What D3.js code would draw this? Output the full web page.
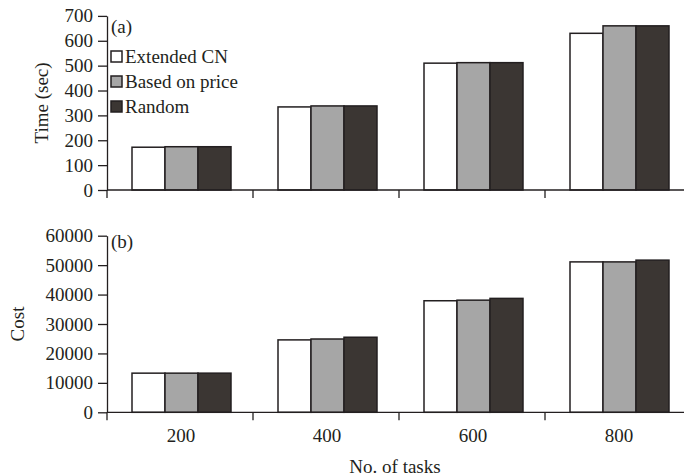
<!DOCTYPE html>
<html>
<head>
<meta charset="utf-8">
<script src="https://cdn.jsdelivr.net/npm/d3@7"></script>
<style>
  body { margin: 0; background: #fff; }
  text { font-family: "Liberation Serif", "Times New Roman", serif; fill: #231f20; }
</style>
</head>
<body>
<svg id="chart" width="684" height="476"></svg>
<script>
// categories and series
const tasks = ["200", "400", "600", "800"];
const seriesNames = ["Extended CN", "Based on price", "Random"];
const seriesColors = ["#ffffff", "#a6a6a6", "#3b3633"];

// (a) time in seconds
const timeExtended = [172, 334, 510, 630];
const timePrice = [174, 338, 512, 660];
const timeRandom = [174, 338, 512, 660];

// (b) cost
const costExtended = [13300, 24600, 37900, 51100];
const costPrice = [13300, 24900, 38100, 51100];
const costRandom = [13300, 25500, 38700, 51700];

const timeTicks = [0, 100, 200, 300, 400, 500, 600, 700];
const costTicks = [0, 10000, 20000, 30000, 40000, 50000, 60000];

const svg = d3.select("#chart");
const ink = "#231f20";
const fontSize = 19;

const left = 107, right = 691, axisEnd = 684;

// category bands, ticks sit on band edges
const x0 = d3.scaleBand().domain(tasks).range([left, right]).padding(0);
const x1 = d3.scaleBand().domain(seriesNames).range([25, 124]).padding(0);

function panel(opts) {
  const g = svg.append("g");
  const y = d3.scaleLinear().domain(opts.domain).range([opts.bottom, opts.top]);

  // bars
  const rows = tasks.map((t, i) => ({
    task: t,
    vals: opts.series.map((s, j) => ({ name: seriesNames[j], v: s[i], c: seriesColors[j] }))
  }));

  g.selectAll(".grp")
    .data(rows)
    .join("g")
    .attr("class", "grp")
    .attr("transform", d => `translate(${x0(d.task)},0)`)
    .selectAll("rect")
    .data(d => d.vals)
    .join("rect")
    .attr("x", d => x1(d.name))
    .attr("y", d => y(d.v))
    .attr("width", x1.bandwidth())
    .attr("height", d => y(0) - y(d.v))
    .attr("fill", d => d.c)
    .attr("stroke", ink)
    .attr("stroke-width", 1.5);

  // y axis
  const ya = g.append("g")
    .attr("transform", `translate(${left},0)`)
    .call(d3.axisLeft(y).tickValues(opts.ticks).tickSize(9).tickSizeOuter(0).tickPadding(5).tickFormat(d3.format("d")));
  ya.selectAll("path, line").attr("stroke", ink).attr("stroke-width", 1.3);
  ya.selectAll("text").style("font-size", fontSize + "px").style("font-family", "Liberation Serif, serif").attr("fill", ink);

  // x axis line and boundary ticks
  g.append("line")
    .attr("x1", left).attr("x2", axisEnd)
    .attr("y1", y(0)).attr("y2", y(0))
    .attr("stroke", ink).attr("stroke-width", 1.3);
  g.selectAll(".xtick")
    .data(tasks)
    .join("line")
    .attr("class", "xtick")
    .attr("x1", d => x0(d)).attr("x2", d => x0(d))
    .attr("y1", y(0)).attr("y2", y(0) + 8)
    .attr("stroke", ink).attr("stroke-width", 1.3);

  // panel tag
  g.append("text")
    .attr("x", left + 4)
    .attr("y", opts.top + opts.tagDy)
    .style("font-size", fontSize + "px")
    .text(opts.tag);

  // y title
  g.append("text")
    .attr("transform", `translate(${opts.titleX},${(opts.top + opts.bottom) / 2}) rotate(-90)`)
    .attr("text-anchor", "middle")
    .style("font-size", fontSize + "px")
    .text(opts.title);

  return { g, y };
}

const panelA = panel({
  domain: [0, 700], top: 15.9, bottom: 190,
  series: [timeExtended, timePrice, timeRandom],
  ticks: timeTicks, tag: "(a)", tagDy: 17,
  title: "Time (sec)", titleX: 48
});

const panelB = panel({
  domain: [0, 60000], top: 235.7, bottom: 412.3,
  series: [costExtended, costPrice, costRandom],
  ticks: costTicks, tag: "(b)", tagDy: 12,
  title: "Cost", titleX: 24
});

// category labels under the lower panel
svg.selectAll(".xlab")
  .data(tasks)
  .join("text")
  .attr("class", "xlab")
  .attr("x", d => x0(d) + x0.bandwidth() / 2 + 1)
  .attr("y", 442)
  .attr("text-anchor", "middle")
  .style("font-size", fontSize + "px")
  .text(d => d);

svg.append("text")
  .attr("x", 395)
  .attr("y", 473)
  .attr("text-anchor", "middle")
  .style("font-size", fontSize + "px")
  .text("No. of tasks");

// legend
const legend = svg.selectAll(".legend")
  .data(seriesNames)
  .join("g")
  .attr("class", "legend")
  .attr("transform", (d, i) => `translate(111,${51 + i * 25})`);

legend.append("rect")
  .attr("width", 11)
  .attr("height", 11)
  .attr("fill", (d, i) => seriesColors[i])
  .attr("stroke", ink)
  .attr("stroke-width", 1.5);

legend.append("text")
  .attr("x", 14)
  .attr("y", 12)
  .style("font-size", fontSize + "px")
  .text(d => d);
</script>
</body>
</html>
